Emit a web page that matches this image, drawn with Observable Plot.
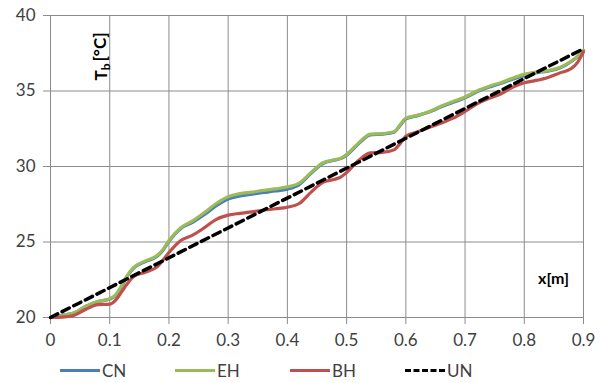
<!DOCTYPE html>
<html>
<head>
<meta charset="utf-8">
<script src="https://cdn.jsdelivr.net/npm/d3@7"></script>
<script src="https://cdn.jsdelivr.net/npm/@observablehq/plot@0.6"></script>
<style>
  html, body { margin: 0; padding: 0; background: #fff; }
  #wrap { position: relative; width: 603px; height: 383px; font-family: Lato, "Open Sans", sans-serif; }
  #legend { position: absolute; left: 0; top: 358px; width: 603px; height: 25px; }
  .item { position: absolute; top: 0; display: flex; align-items: center; height: 25px; font-size: 17px; color: #404040; }
  .sw { width: 40px; height: 0; margin-right: 2px; }
</style>
</head>
<body>
<div id="wrap"><div id="chart"></div><div id="legend"></div></div>
<script>
// ---- data ----
const xs = [0, 0.02, 0.04, 0.06, 0.08, 0.1, 0.11, 0.12, 0.13, 0.14, 0.16, 0.18, 0.19, 0.2, 0.22, 0.24, 0.26, 0.28, 0.3,
            0.32, 0.34, 0.36, 0.38, 0.4, 0.42, 0.44, 0.46, 0.48, 0.49, 0.5, 0.52, 0.54, 0.56, 0.58, 0.59, 0.6,
            0.62, 0.64, 0.66, 0.68, 0.7, 0.72, 0.74, 0.76, 0.78, 0.8, 0.82, 0.84, 0.86, 0.88, 0.89, 0.9];
const EH = [20.0, 20.15, 20.3, 20.75, 21.05, 21.25, 21.5, 22.1, 22.8, 23.3, 23.75, 24.1, 24.5, 25.1, 25.95, 26.4, 26.95, 27.55, 28.0,
            28.2, 28.3, 28.42, 28.52, 28.65, 28.9, 29.6, 30.25, 30.45, 30.55, 30.8, 31.55, 32.15, 32.18, 32.3, 32.75, 33.2,
            33.4, 33.65, 34.0, 34.3, 34.6, 35.0, 35.3, 35.55, 35.85, 36.1, 36.25, 36.35, 36.55, 37.0, 37.3, 37.7];
const CN = [20.0, 20.15, 20.3, 20.75, 21.05, 21.22, 21.45, 22.05, 22.75, 23.25, 23.7, 24.05, 24.45, 25.05, 25.9, 26.3, 26.82, 27.4, 27.85,
            28.05, 28.17, 28.28, 28.38, 28.5, 28.8, 29.55, 30.2, 30.42, 30.52, 30.75, 31.5, 32.1, 32.15, 32.27, 32.7, 33.15,
            33.37, 33.62, 33.95, 34.25, 34.55, 34.95, 35.25, 35.5, 35.78, 36.02, 36.2, 36.32, 36.52, 36.97, 37.28, 37.68];
const BH = [20.0, 20.02, 20.15, 20.55, 20.85, 20.88, 21.15, 21.7, 22.25, 22.7, 23.0, 23.35, 23.8, 24.3, 25.1, 25.45, 25.95, 26.5, 26.78,
            26.9, 27.0, 27.12, 27.2, 27.3, 27.55, 28.3, 28.95, 29.15, 29.3, 29.6, 30.4, 30.9, 30.93, 31.1, 31.5, 32.0,
            32.3, 32.6, 32.88, 33.2, 33.65, 34.15, 34.5, 34.8, 35.25, 35.55, 35.7, 35.9, 36.2, 36.5, 36.9, 37.6];
const UN_x = [0, 0.9];
const UN = [20.0, 37.8];

const seriesNames = ["CN", "EH", "BH", "UN"];
const seriesColors = ["#4A7EBB", "#9BBB59", "#C0504D", "#000000"];
const xTicks = [0, 0.1, 0.2, 0.3, 0.4, 0.5, 0.6, 0.7, 0.8, 0.9];
const yTicks = [20, 25, 30, 35, 40];
const xTickLabels = ["0", "0.1", "0.2", "0.3", "0.4", "0.5", "0.6", "0.7", "0.8", "0.9"];
const yLabel = "T_b [°C]";
const xLabel = "x[m]";

// ---- build rows ----
const toRows = (name, xv, yv) => xv.map((x, i) => ({series: name, x, y: yv[i]}));
const rowsCN = toRows("CN", xs, CN);
const rowsEH = toRows("EH", xs, EH);
const rowsBH = toRows("BH", xs, BH);
const rowsUN = toRows("UN", UN_x, UN);
const colorOf = Object.fromEntries(seriesNames.map((n, i) => [n, seriesColors[i]]));

const gridColor = "#8c8c8c";
const chart = Plot.plot({
  width: 603,
  height: 358,
  marginLeft: 50,
  marginRight: 20,
  marginTop: 15,
  marginBottom: 41,
  style: {fontFamily: "Lato, 'Open Sans', sans-serif", fontSize: "17px", color: "#404040", background: "#fff"},
  x: {domain: [0, 0.9], ticks: xTicks, tickFormat: (d, i) => xTickLabels[i]},
  y: {domain: [20, 40], ticks: yTicks},
  marks: [
    Plot.gridX(xTicks, {stroke: gridColor, strokeOpacity: 1}),
    Plot.gridY(yTicks, {stroke: gridColor, strokeOpacity: 1}),
    Plot.axisX({ticks: xTicks, tickFormat: (d, i) => xTickLabels[i], tickSize: 7, tickPadding: 9, stroke: gridColor, label: null, fill: "#404040"}),
    Plot.axisY({ticks: yTicks, tickSize: 7, tickPadding: 8, stroke: gridColor, label: null, fill: "#404040"}),
    Plot.line(rowsCN, {x: "x", y: "y", stroke: colorOf.CN, strokeWidth: 3.2, strokeLinejoin: "round", curve: "monotone-x"}),
    Plot.line(rowsEH, {x: "x", y: "y", stroke: colorOf.EH, strokeWidth: 3.2, strokeLinejoin: "round", curve: "monotone-x"}),
    Plot.line(rowsBH, {x: "x", y: "y", stroke: colorOf.BH, strokeWidth: 3.2, strokeLinejoin: "round", curve: "monotone-x"}),
    Plot.line(rowsUN, {x: "x", y: "y", stroke: colorOf.UN, strokeWidth: 3.5, strokeDasharray: "8,5"}),
    Plot.text([yLabel], {frameAnchor: "top-left", dx: 44, dy: 41, rotate: -90, text: d => d, fontWeight: "bold", fontSize: 17, fill: "#000", textAnchor: "middle"}),
    Plot.text([xLabel], {frameAnchor: "bottom-right", dx: -30, dy: -34, text: d => d, fontWeight: "bold", fontSize: 16, fill: "#000", textAnchor: "middle"})
  ]
});
document.getElementById("chart").appendChild(chart);

// subscript in the y label
d3.select(chart).selectAll("text").filter(function() { return this.textContent === yLabel; }).each(function() {
  const t = d3.select(this);
  t.text(null);
  t.append("tspan").text("T");
  t.append("tspan").attr("font-size", 12).attr("dy", "0.3em").text("b");
  t.append("tspan").attr("dy", "-0.25em").attr("dx", 2).text("[°C]");
});

// legend
const legend = document.getElementById("legend");
seriesNames.forEach((name, i) => {
  const item = document.createElement("div");
  item.className = "item";
  item.style.left = (60 + i * 115) + "px";
  const sw = document.createElement("div");
  sw.className = "sw";
  if (name === "UN") sw.style.borderTop = "3.5px dashed " + seriesColors[i];
  else sw.style.borderTop = "3.5px solid " + seriesColors[i];
  item.appendChild(sw);
  const lab = document.createElement("span");
  lab.textContent = name;
  item.appendChild(lab);
  legend.appendChild(item);
});
</script>
</body>
</html>
